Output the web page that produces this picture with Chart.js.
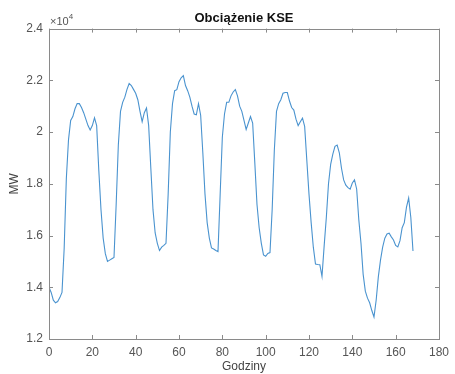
<!DOCTYPE html>
<html><head><meta charset="utf-8">
<script src="https://cdn.jsdelivr.net/npm/chart.js@4"></script>
<style>html,body{margin:0;padding:0;background:#fff}#wrap{width:455px;height:374px}</style>
</head><body><div id="wrap"><canvas id="c" width="455" height="374"></canvas></div>
<script>
const hours = [];
for (let h = 0; h <= 168; h++) hours.push(h);
const loadMW = [
14000,13800,13500,13400,13450,13600,13800,15500,18200,19700,
20450,20600,20900,21100,21100,20950,20750,20500,20250,20080,
20250,20550,20250,18500,17000,15900,15300,15000,15050,15100,
15150,17200,19500,20800,21150,21350,21650,21880,21800,21650,
21500,21250,20800,20400,20750,20930,20250,18600,17000,16100,
15700,15420,15550,15620,15700,17600,20000,21100,21600,21640,
21950,22100,22180,21800,21600,21350,21000,20700,20670,21100,
20650,19200,17600,16500,15900,15520,15480,15420,15380,17600,
19800,20700,21150,21150,21400,21550,21640,21400,21000,20800,
20450,20100,20350,20600,20350,18800,17200,16300,15700,15250,
15200,15310,15340,17000,19300,20800,21100,21250,21500,21530,
21530,21200,20950,20850,20500,20250,20400,20540,20220,18900,
17600,16500,15550,14900,14880,14870,14420,15600,16700,18000,
18750,19150,19450,19500,19200,18600,18150,17950,17850,17790,
18030,18150,17800,16600,15700,14500,13850,13580,13400,13100,
12850,13500,14400,15050,15550,15900,16060,16090,15950,15830,
15620,15560,15800,16300,16500,17100,17450,16700,15400
];
const xTicks = [0,20,40,60,80,100,120,140,160,180];
const yTicks = [12000,14000,16000,18000,20000,22000,24000];
const titleText = "Obciążenie KSE";
const xLabel = "Godziny";
const yLabel = "MW";

const FONT = "'Liberation Sans', Arial, sans-serif";
const boxPlugin = {
  id: 'box',
  afterDraw(chart) {
    const {ctx, chartArea: a, scales} = chart;
    ctx.save();
    ctx.strokeStyle = '#8a8a8a';
    ctx.lineWidth = 1;
    ctx.strokeRect(Math.round(a.left)+0.5, Math.round(a.top)+0.5, Math.round(a.right-a.left), Math.round(a.bottom-a.top));
    ctx.beginPath();
    const L = 4;
    xTicks.forEach(t => {
      const x = Math.round(scales.x.getPixelForValue(t)) + 0.5;
      ctx.moveTo(x, a.bottom); ctx.lineTo(x, a.bottom - L);
      ctx.moveTo(x, a.top); ctx.lineTo(x, a.top + L);
    });
    yTicks.forEach(t => {
      const y = Math.round(scales.y.getPixelForValue(t)) + 0.5;
      ctx.moveTo(a.left, y); ctx.lineTo(a.left + L, y);
      ctx.moveTo(a.right, y); ctx.lineTo(a.right - L, y);
    });
    ctx.stroke();
    // exponent label
    ctx.fillStyle = '#555';
    ctx.textBaseline = 'alphabetic';
    ctx.textAlign = 'left';
    ctx.font = '11px ' + FONT;
    ctx.fillText('\u00d710', a.left + 1, a.top - 4);
    const w = ctx.measureText('\u00d710').width;
    ctx.font = '8px ' + FONT;
    ctx.fillText('4', a.left + 1 + w, a.top - 10);
    ctx.restore();
  }
};

new Chart(document.getElementById('c'), {
  type: 'line',
  data: {
    datasets: [{
      data: hours.map((h, i) => ({x: h, y: loadMW[i]})),
      borderColor: '#4a93cf',
      borderWidth: 1.1,
      pointRadius: 0,
      tension: 0,
      fill: false
    }]
  },
  options: {
    responsive: false,
    animation: false,
    devicePixelRatio: 1,
    layout: {padding: {left: 0, right: 11, top: 0, bottom: 0}},
    plugins: {
      legend: {display: false},
      tooltip: {enabled: false},
      title: {
        display: true, text: titleText, fullSize: false,
        color: '#111', font: {family: FONT, size: 13, weight: 'bold'},
        padding: {top: 11, bottom: 2}
      }
    },
    scales: {
      x: {
        type: 'linear', min: 0, max: 180,
        afterBuildTicks(s) { s.ticks = xTicks.map(v => ({value: v})); },
        afterFit(s) { s.height = 35; },
        grid: {display: false, drawTicks: false},
        border: {display: false},
        ticks: {color: '#555', font: {family: FONT, size: 12}, padding: 6, maxRotation: 0},
        title: {display: true, text: xLabel, color: '#444', font: {family: FONT, size: 12}, padding: {top: 0, bottom: 0}}
      },
      y: {
        type: 'linear', min: 12000, max: 24000,
        afterBuildTicks(s) { s.ticks = yTicks.map(v => ({value: v})); },
        afterFit(s) { s.width = 49; },
        grid: {display: false, drawTicks: false},
        border: {display: false},
        ticks: {color: '#555', font: {family: FONT, size: 12}, padding: 6,
          callback: v => String(Number((v / 10000).toFixed(1)))},
        title: {display: true, text: yLabel, color: '#444', font: {family: FONT, size: 12}, padding: {top: 7, bottom: 0}}
      }
    }
  },
  plugins: [boxPlugin]
});
</script></body></html>
